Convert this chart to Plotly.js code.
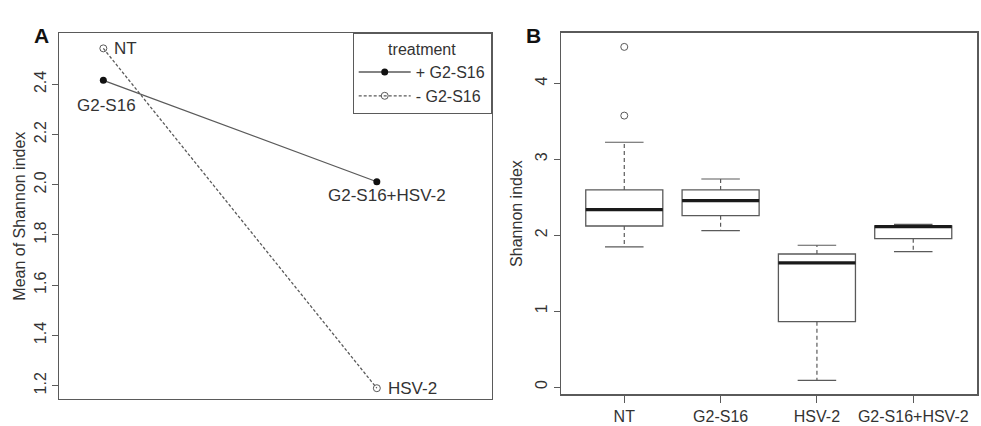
<!DOCTYPE html>
<html>
<head>
<meta charset="utf-8">
<script src="https://cdn.plot.ly/plotly-3.0.1.min.js"></script>
<style>html,body{margin:0;padding:0;background:#fff;}#chart{width:981px;height:426px;}</style>
</head>
<body>
<div id="chart"></div>
<script>
// ---- Panel A: interaction plot (means of Shannon index) ----
const levelsA = [1, 2];
const plusG2S16 = [2.416, 2.012];      // + G2-S16 : G2-S16, G2-S16+HSV-2
const minusG2S16 = [2.543, 1.19];      // - G2-S16 : NT, HSV-2
const plusLabels = ["G2-S16", "G2-S16+HSV-2"];
const minusLabels = ["NT", "HSV-2"];
const legendNames = ["+ G2-S16", "- G2-S16"];
const ticksA = [1.2, 1.4, 1.6, 1.8, 2.0, 2.2, 2.4];

// ---- Panel B: box plot of Shannon index ----
const categories = ["NT", "G2-S16", "HSV-2", "G2-S16+HSV-2"];
const lowerWhisker = [1.845, 2.06, 0.088, 1.783];
const q1 = [2.121, 2.257, 0.861, 1.954];
const median = [2.336, 2.455, 1.634, 2.112];
const q3 = [2.596, 2.596, 1.752, 2.121];
const upperWhisker = [3.224, 2.74, 1.867, 2.143];
const outlierGroup = [1, 1];
const outlierValues = [4.48, 3.575];
const ticksB = [0, 1, 2, 3, 4];

const grey = "#5a5a5a";
const txt = "#333333";
const font = "Liberation Sans, Arial, sans-serif";
const pos = categories.map((c, i) => i + 1);

const traces = [];
traces.push({
  type: "scatter", mode: "lines+markers", name: legendNames[0],
  x: levelsA, y: plusG2S16, xaxis: "x", yaxis: "y",
  line: {color: grey, width: 1.3}, marker: {symbol: "circle", size: 7, color: "#111"}
});
traces.push({
  type: "scatter", mode: "lines+markers", name: legendNames[1],
  x: levelsA, y: minusG2S16, xaxis: "x", yaxis: "y",
  line: {color: grey, width: 1.3, dash: "3px,2px"},
  marker: {symbol: "circle-open", size: 7, color: grey, line: {width: 1}}
});

// boxes
traces.push({
  type: "box", x: pos, q1: q1, median: median, q3: q3,
  lowerfence: q1, upperfence: q3, width: 0.8, whiskerwidth: 0,
  boxpoints: false, fillcolor: "rgba(255,255,255,0)",
  line: {color: grey, width: 1.3}, xaxis: "x2", yaxis: "y2",
  showlegend: false, hoverinfo: "skip"
});
// whiskers (dashed)
const wx = [], wy = [];
pos.forEach((p, i) => {
  wx.push(p, p, null, p, p, null);
  wy.push(q3[i], upperWhisker[i], null, q1[i], lowerWhisker[i], null);
});
traces.push({type: "scatter", mode: "lines", x: wx, y: wy, xaxis: "x2", yaxis: "y2",
  line: {color: grey, width: 1.2, dash: "4px,3px"}, showlegend: false, hoverinfo: "skip"});
// caps
const cx = [], cy = [];
pos.forEach((p, i) => {
  cx.push(p - 0.2, p + 0.2, null, p - 0.2, p + 0.2, null);
  cy.push(upperWhisker[i], upperWhisker[i], null, lowerWhisker[i], lowerWhisker[i], null);
});
traces.push({type: "scatter", mode: "lines", x: cx, y: cy, xaxis: "x2", yaxis: "y2",
  line: {color: grey, width: 1.2}, showlegend: false, hoverinfo: "skip"});
// medians
const mx = [], my = [];
pos.forEach((p, i) => { mx.push(p - 0.4, p + 0.4, null); my.push(median[i], median[i], null); });
traces.push({type: "scatter", mode: "lines", x: mx, y: my, xaxis: "x2", yaxis: "y2",
  line: {color: "#1a1a1a", width: 3.2}, showlegend: false, hoverinfo: "skip"});
// outliers
traces.push({type: "scatter", mode: "markers", x: outlierGroup, y: outlierValues, xaxis: "x2", yaxis: "y2",
  marker: {symbol: "circle-open", size: 7, color: grey, line: {width: 1}}, showlegend: false, hoverinfo: "skip"});

const annotations = [
  {xref: "x", yref: "y", x: levelsA[0], y: minusG2S16[0], text: minusLabels[0], showarrow: false, xanchor: "left", xshift: 9, font: {size: 17, color: txt, family: font}},
  {xref: "x", yref: "y", x: levelsA[1], y: minusG2S16[1], text: minusLabels[1], showarrow: false, xanchor: "left", xshift: 9, font: {size: 17, color: txt, family: font}},
  {xref: "x", yref: "y", x: levelsA[0], y: plusG2S16[0], text: plusLabels[0], showarrow: false, xanchor: "center", xshift: 3, yshift: -25, font: {size: 17, color: txt, family: font}},
  {xref: "x", yref: "y", x: levelsA[1], y: plusG2S16[1], text: plusLabels[1], showarrow: false, xanchor: "center", xshift: 10, yshift: -14, font: {size: 17, color: txt, family: font}},
  {xref: "paper", yref: "paper", x: 32 / 981, y: 1 - 22 / 426, text: "<b>A</b>", showarrow: false, font: {size: 21, color: "#111", family: font}},
  {xref: "paper", yref: "paper", x: 533 / 981, y: 1 - 22 / 426, text: "<b>B</b>", showarrow: false, font: {size: 21, color: "#111", family: font}}
];

const axisCommon = {showgrid: false, zeroline: false, showline: true, mirror: true, linecolor: grey, linewidth: 1.2,
  tickcolor: grey, tickfont: {size: 16, color: txt, family: font}};

const layout = {
  width: 981, height: 426,
  margin: {l: 0, r: 0, t: 0, b: 0},
  paper_bgcolor: "#fff", plot_bgcolor: "#fff",
  font: {family: font, color: txt},
  showlegend: true,
  legend: {x: 491.7 / 981, y: 1 - 33.3 / 426, xanchor: "right", yanchor: "top",
    bordercolor: grey, borderwidth: 1, bgcolor: "#fff",
    title: {text: "treatment", side: "top center", font: {size: 16, color: txt, family: font}},
    font: {size: 16, color: txt, family: font}, itemwidth: 52, tracegroupgap: 0},
  xaxis: Object.assign({}, axisCommon, {domain: [59.3 / 981, 491.7 / 981], range: [0.839, 2.42], showticklabels: false, ticks: ""}),
  yaxis: Object.assign({}, axisCommon, {domain: [27 / 426, 392.7 / 426], range: [1.147, 2.603], tickvals: ticksA, tickformat: ".1f",
    ticks: "outside", ticklen: 6, tickangle: -90,
    title: {text: "Mean of Shannon index", font: {size: 16, color: txt, family: font}, standoff: 2}}),
  xaxis2: Object.assign({}, axisCommon, {domain: [561 / 981, 977.3 / 981], range: [0.343, 4.665], tickvals: pos, ticktext: categories,
    ticks: "outside", ticklen: 7, anchor: "y2"}),
  yaxis2: Object.assign({}, axisCommon, {domain: [31.7 / 426, 393.3 / 426], range: [-0.096, 4.667], tickvals: ticksB,
    ticks: "outside", ticklen: 6, tickangle: -90, anchor: "x2",
    title: {text: "Shannon index", font: {size: 16, color: txt, family: font}, standoff: 6}}),
  annotations: annotations
};

Plotly.newPlot("chart", traces, layout, {displayModeBar: false, staticPlot: true});
</script>
</body>
</html>
